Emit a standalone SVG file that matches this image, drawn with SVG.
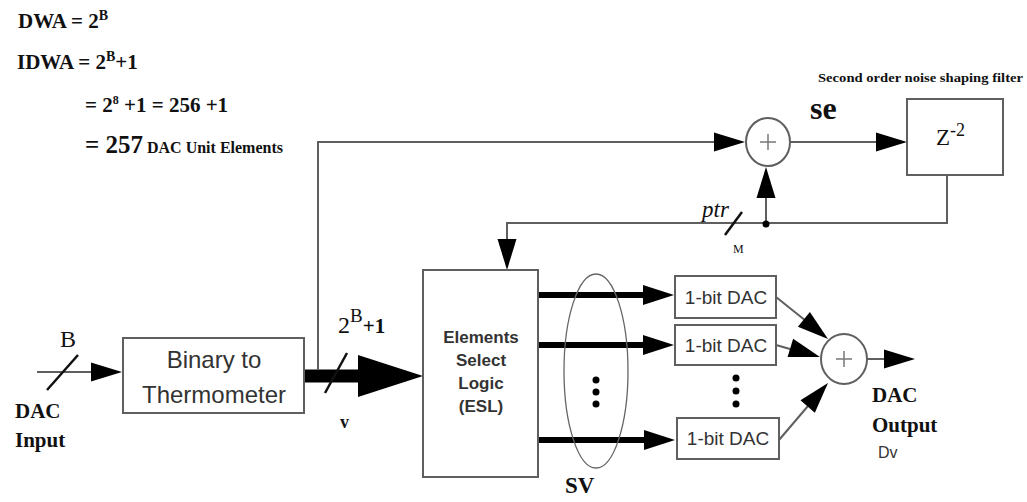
<svg xmlns="http://www.w3.org/2000/svg" width="1027" height="502" viewBox="0 0 1027 502">
  <style>
    .box { fill: #fff; stroke: #5f5f5f; stroke-width: 2; }
    .wire { fill: none; stroke: #5f5f5f; stroke-width: 2; }
    .bus { fill: none; stroke: #000; stroke-width: 6; }
    .tick { stroke: #111; stroke-width: 2.5; }
    .head { fill: #000; }
    .sum { fill: #fff; stroke: #5f5f5f; stroke-width: 2; }
    .plus { stroke: #777; stroke-width: 1.5; }
    .serif { font-family: "Liberation Serif", "Times New Roman", serif; fill: #111; }
    .sans { font-family: "Liberation Sans", Arial, sans-serif; fill: #333; }
    .b { font-weight: bold; }
  </style>
  <defs>
    <!-- arrowhead with tip at origin, pointing along +x -->
    <path id="ah" d="M0,0 L-31,-9.5 L-31,9.5 Z"/>
    <circle id="dot" r="3.5"/>
  </defs>

  <rect width="1027" height="502" fill="#fff"/>

  <!-- equations -->
  <g id="equations" class="serif b">
    <text x="18" y="28" font-size="21">DWA = 2<tspan font-size="14" dy="-8">B</tspan></text>
    <text x="17" y="69" font-size="21">IDWA = 2<tspan font-size="14" dy="-8">B</tspan><tspan dy="8">+1</tspan></text>
    <text x="85" y="112" font-size="21">= 2<tspan font-size="12" dy="-8">8</tspan><tspan dy="8"> +1 = 256 +1</tspan></text>
    <text x="85" y="153" font-size="25">= 257<tspan font-size="16"> DAC Unit Elements</tspan></text>
  </g>

  <!-- connectors -->
  <g id="connectors">
    <!-- DAC input -->
    <line class="wire" x1="37" y1="372" x2="92" y2="372"/>
    <use href="#ah" transform="translate(122,372)"/>
    <line class="tick" x1="47" y1="390" x2="78" y2="355"/>

    <!-- thermometer bus into ESL -->
    <line x1="304" y1="376" x2="360" y2="376" stroke="#000" stroke-width="13"/>
    <polygon class="head" points="423,376 358,355 358,397"/>
    <line class="tick" x1="325" y1="393" x2="347" y2="353" stroke="#666"/>

    <!-- tap up to the top adder -->
    <polyline class="wire" points="318,370 318,142 714,142"/>
    <use href="#ah" transform="translate(745,142)"/>

    <!-- adder to Z^-2 -->
    <line class="wire" x1="790" y1="142" x2="877" y2="142"/>
    <use href="#ah" transform="translate(907,142)"/>

    <!-- feedback pointer -->
    <polyline class="wire" points="947,175 947,223 507,223 507,240"/>
    <use href="#ah" transform="translate(507,270) rotate(90)"/>
    <line class="wire" x1="766" y1="223" x2="766" y2="198"/>
    <use href="#ah" transform="translate(766,167) rotate(-90)"/>
    <use href="#dot" x="766" y="224"/>
    <line class="tick" x1="725" y1="235" x2="742" y2="212"/>

    <!-- ESL outputs -->
    <line class="bus" x1="538" y1="295" x2="644" y2="295"/>
    <use href="#ah" transform="translate(674,295) scale(1,1.05)"/>
    <line class="bus" x1="538" y1="345" x2="644" y2="345"/>
    <use href="#ah" transform="translate(674,345) scale(1,1.05)"/>
    <line class="bus" x1="538" y1="440" x2="644" y2="440"/>
    <use href="#ah" transform="translate(675,440) scale(1,1.05)"/>

    <!-- unit DACs to output adder -->
    <line class="wire" x1="776" y1="297" x2="806" y2="321"/>
    <use href="#ah" transform="translate(828,339) rotate(39)"/>
    <line class="wire" x1="776" y1="345" x2="790" y2="349"/>
    <use href="#ah" transform="translate(820,357) rotate(17)"/>
    <line class="wire" x1="779" y1="440" x2="808" y2="406"/>
    <use href="#ah" transform="translate(828,383) rotate(-49)"/>

    <!-- DAC output -->
    <line class="wire" x1="867" y1="359" x2="885" y2="359"/>
    <use href="#ah" transform="translate(915,359)"/>
  </g>

  <!-- binary to thermometer -->
  <g id="b2t">
    <rect class="box" x="123" y="338" width="181" height="75"/>
    <text class="sans" x="214" y="368" font-size="24" text-anchor="middle">Binary to</text>
    <text class="sans" x="214" y="403" font-size="24" text-anchor="middle">Thermometer</text>
  </g>

  <!-- element select logic -->
  <g id="esl">
    <rect class="box" x="423" y="270" width="115" height="207"/>
    <g class="sans b" font-size="17" text-anchor="middle" fill="#3a3a3a">
      <text x="481" y="343">Elements</text>
      <text x="481" y="366">Select</text>
      <text x="481" y="389">Logic</text>
      <text x="481" y="412">(ESL)</text>
    </g>
  </g>

  <!-- selection vector -->
  <g id="sv">
    <ellipse cx="596" cy="371" rx="32" ry="97" fill="none" stroke="#666" stroke-width="1.3"/>
    <use href="#dot" x="596" y="380"/>
    <use href="#dot" x="596" y="392"/>
    <use href="#dot" x="596" y="404"/>
    <text class="serif b" x="565" y="493" font-size="23">SV</text>
  </g>

  <!-- unit DACs -->
  <g id="dac1">
    <rect class="box" x="675" y="276" width="101" height="42"/>
    <text class="sans" x="726" y="304" font-size="19" text-anchor="middle">1-bit DAC</text>
  </g>
  <g id="dac2">
    <rect class="box" x="675" y="325" width="101" height="40"/>
    <text class="sans" x="726" y="352" font-size="19" text-anchor="middle">1-bit DAC</text>
  </g>
  <g id="dac-dots">
    <use href="#dot" x="736" y="378"/>
    <use href="#dot" x="736" y="391"/>
    <use href="#dot" x="736" y="404"/>
  </g>
  <g id="dacN">
    <rect class="box" x="677" y="418" width="102" height="41"/>
    <text class="sans" x="728" y="445" font-size="19" text-anchor="middle">1-bit DAC</text>
  </g>

  <!-- output adder -->
  <g id="out-sum">
    <ellipse class="sum" cx="844" cy="359" rx="23" ry="25"/>
    <line class="plus" x1="836" y1="359" x2="852" y2="359"/>
    <line class="plus" x1="844" y1="351" x2="844" y2="367"/>
  </g>

  <!-- noise shaping adder -->
  <g id="ns-sum">
    <ellipse class="sum" cx="768" cy="142" rx="22" ry="24"/>
    <line class="plus" x1="760" y1="142" x2="776" y2="142"/>
    <line class="plus" x1="768" y1="134" x2="768" y2="150"/>
  </g>

  <!-- delay -->
  <g id="delay">
    <rect class="box" x="907" y="99" width="96" height="76"/>
    <text class="serif" x="936" y="145" font-size="23">Z<tspan font-size="18" dy="-9">-2</tspan></text>
  </g>

  <!-- labels -->
  <g id="labels">
    <text class="serif" x="60" y="347" font-size="24">B</text>
    <text class="serif b" x="15" y="418" font-size="21">DAC</text>
    <text class="serif b" x="15" y="447" font-size="21">Input</text>
    <text class="serif" x="338" y="333" font-size="24">2<tspan font-size="19" dy="-11">B</tspan><tspan class="b" font-size="21" dy="11">+1</tspan></text>
    <text class="serif b" x="340" y="428" font-size="18">v</text>
    <text class="serif b" x="818" y="82" font-size="12" textLength="205" lengthAdjust="spacingAndGlyphs">Second order noise shaping filter</text>
    <text class="serif b" x="810" y="119" font-size="32">se</text>
    <text class="serif" x="702" y="217" font-size="23" font-style="italic" fill="#444">ptr</text>
    <text class="serif" x="733" y="253" font-size="12" fill="#444">M</text>
    <text class="serif b" x="872" y="402" font-size="21">DAC</text>
    <text class="serif b" x="872" y="432" font-size="21">Output</text>
    <text class="sans" x="878" y="458" font-size="16" fill="#111">Dv</text>
  </g>
</svg>
